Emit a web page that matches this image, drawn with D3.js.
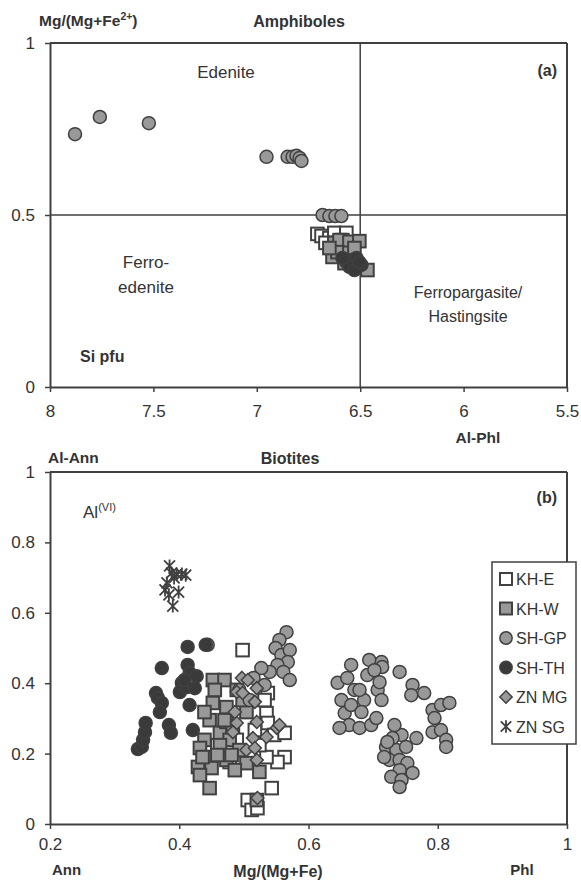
<!DOCTYPE html>
<html><head><meta charset="utf-8">
<script src="https://cdn.jsdelivr.net/npm/d3@7"></script>
<style>body{margin:0;background:#fff}svg{display:block}text{font-family:"Liberation Sans",Arial,sans-serif;fill:#333}</style>
</head><body><svg id="c" width="581" height="884"></svg>
<script>
// ---- Panel (a) Amphiboles: [Si pfu, Mg/(Mg+Fe2+)] ----
const ampXTicks = [8, 7.5, 7, 6.5, 6, 5.5];
const ampYTicks = [0, 0.5, 1];
const ampKHE = [[6.707,0.445],[6.687,0.439],[6.649,0.433],[6.625,0.448],[6.567,0.448],[6.586,0.427],[6.668,0.419]];
const ampKHW = [[6.625,0.419],[6.600,0.427],[6.552,0.422],[6.504,0.424],[6.634,0.378],[6.610,0.392],[6.552,0.390],[6.576,0.360],[6.465,0.340],[6.528,0.404],[6.649,0.404]];
const ampSHGP = [[7.879,0.735],[7.759,0.785],[7.522,0.767],[6.953,0.669],[6.851,0.669],[6.827,0.669],[6.808,0.672],[6.793,0.666],[6.784,0.657],[6.682,0.500],[6.649,0.497],[6.620,0.497],[6.591,0.497]];
const ampSHTH = [[6.567,0.363],[6.542,0.369],[6.518,0.375],[6.494,0.355],[6.552,0.349],[6.528,0.340],[6.586,0.375],[6.504,0.363]];

// ---- Panel (b) Biotites: [Mg/(Mg+Fe), Al(VI)] ----
const bioXTicks = [0.2, 0.4, 0.6, 0.8, 1];
const bioYTicks = [0, 0.2, 0.4, 0.6, 0.8, 1];
const bioKHE = [[0.498,0.494],[0.537,0.372],[0.535,0.315],[0.537,0.287],[0.547,0.253],[0.563,0.259],[0.563,0.190],[0.552,0.176],[0.535,0.190],[0.543,0.102],[0.506,0.068],[0.512,0.040],[0.521,0.045],[0.478,0.176],[0.489,0.239],[0.524,0.224],[0.517,0.267],[0.532,0.352],[0.459,0.224]];
const bioKHW = [[0.452,0.409],[0.470,0.409],[0.452,0.344],[0.447,0.295],[0.463,0.259],[0.439,0.239],[0.432,0.216],[0.444,0.190],[0.429,0.162],[0.450,0.159],[0.432,0.139],[0.447,0.102],[0.473,0.290],[0.473,0.182],[0.473,0.332],[0.455,0.381],[0.439,0.318],[0.504,0.318],[0.504,0.173],[0.524,0.148],[0.520,0.068],[0.478,0.239],[0.493,0.210],[0.483,0.276],[0.470,0.295],[0.436,0.190],[0.463,0.224],[0.489,0.381],[0.498,0.352],[0.486,0.153],[0.459,0.196],[0.481,0.196]];
const bioSHGP = [[0.566,0.545],[0.555,0.523],[0.549,0.500],[0.558,0.480],[0.571,0.494],[0.568,0.460],[0.552,0.452],[0.540,0.432],[0.527,0.443],[0.561,0.432],[0.571,0.409],[0.515,0.415],[0.532,0.395],[0.493,0.381],[0.509,0.352],[0.444,0.509],
 [0.713,0.460],[0.714,0.446],[0.741,0.432],[0.761,0.395],[0.759,0.366],[0.779,0.372],[0.792,0.324],[0.805,0.338],[0.818,0.344],[0.795,0.301],[0.792,0.261],[0.805,0.267],[0.813,0.239],[0.813,0.219],[0.767,0.244],[0.744,0.253],[0.730,0.244],[0.720,0.219],[0.736,0.210],[0.751,0.219],[0.725,0.182],[0.741,0.182],[0.753,0.173],[0.761,0.145],[0.741,0.153],[0.728,0.134],[0.744,0.125],[0.741,0.105],[0.717,0.190],[0.722,0.233],[0.733,0.281],
 [0.645,0.401],[0.666,0.452],[0.660,0.415],[0.671,0.381],[0.651,0.352],[0.656,0.315],[0.666,0.338],[0.686,0.352],[0.679,0.381],[0.691,0.423],[0.694,0.466],[0.702,0.437],[0.682,0.318],[0.663,0.281],[0.648,0.273],[0.679,0.273],[0.697,0.281],[0.705,0.301],[0.707,0.381],[0.713,0.352],[0.710,0.403]];
const bioSHTH = [[0.336,0.213],[0.342,0.219],[0.344,0.239],[0.347,0.261],[0.348,0.287],[0.364,0.372],[0.367,0.358],[0.373,0.344],[0.370,0.318],[0.373,0.443],[0.384,0.281],[0.387,0.259],[0.413,0.503],[0.413,0.452],[0.416,0.429],[0.427,0.420],[0.404,0.401],[0.401,0.375],[0.412,0.389],[0.424,0.386],[0.416,0.338],[0.421,0.267],[0.408,0.409],[0.441,0.509]];
const bioZNMG = [[0.497,0.415],[0.506,0.409],[0.489,0.375],[0.498,0.372],[0.520,0.386],[0.517,0.347],[0.489,0.287],[0.520,0.290],[0.535,0.247],[0.551,0.273],[0.514,0.244],[0.504,0.210],[0.517,0.216],[0.520,0.182],[0.483,0.261],[0.521,0.074],[0.555,0.281],[0.486,0.318]];
const bioZNSG = [[0.385,0.733],[0.388,0.713],[0.396,0.710],[0.404,0.710],[0.410,0.707],[0.381,0.685],[0.378,0.665],[0.384,0.651],[0.390,0.619],[0.399,0.659],[0.392,0.699]];
const legendLabels = ["KH-E","KH-W","SH-GP","SH-TH","ZN MG","ZN SG"];

const svg = d3.select("#c");
const AX = "#404040", GRAY = "#999999", DARK = "#3a3a3a";
const L = 50, R = 567;

const styles = {
  "KH-E": {shape:"square", fill:"#fff"},
  "KH-W": {shape:"square", fill:GRAY},
  "SH-GP": {shape:"circle", fill:GRAY},
  "SH-TH": {shape:"circle", fill:DARK},
  "ZN MG": {shape:"diamond", fill:GRAY},
  "ZN SG": {shape:"star", fill:"none"}
};
function marker(g, name, x, y, scale) {
  const s = styles[name], k = scale || 1;
  if (s.shape === "circle") {
    g.append("circle").attr("cx",x).attr("cy",y).attr("r",6.5*k).attr("fill",s.fill).attr("stroke",AX).attr("stroke-width",1.5);
  } else if (s.shape === "square") {
    const h = 6.3*k;
    g.append("rect").attr("x",x-h).attr("y",y-h).attr("width",2*h).attr("height",2*h).attr("fill",s.fill).attr("stroke",AX).attr("stroke-width",2);
  } else if (s.shape === "diamond") {
    const h = 6.5*k;
    g.append("path").attr("d",`M${x},${y-h}L${x+h},${y}L${x},${y+h}L${x-h},${y}Z`).attr("fill",s.fill).attr("stroke",AX).attr("stroke-width",1.5);
  } else {
    const h = 5.5*k;
    g.append("path").attr("d",`M${x-h},${y-h}L${x+h},${y+h}M${x-h},${y+h}L${x+h},${y-h}M${x},${y-h-1}L${x},${y+h+1}`).attr("fill","none").attr("stroke",AX).attr("stroke-width",1.8);
  }
}

function panel(cfg) {
  const g = svg.append("g");
  const x = d3.scaleLinear().domain(cfg.xd).range([L, R]);
  const y = d3.scaleLinear().domain(cfg.yd).range([cfg.y0, cfg.y1]);
  g.append("line").attr("x1",L).attr("x2",R).attr("y1",cfg.y1).attr("y2",cfg.y1).attr("stroke",AX).attr("stroke-width",2);
  g.append("line").attr("x1",R).attr("x2",R).attr("y1",cfg.y1).attr("y2",cfg.y0).attr("stroke",AX).attr("stroke-width",2);
  const xa = g.append("g").attr("transform",`translate(0,${cfg.y0})`)
    .call(d3.axisBottom(x).tickValues(cfg.xt).tickSize(5).tickSizeOuter(0).tickPadding(cfg.xpad).tickFormat(d3.format("")));
  const ya = g.append("g").attr("transform",`translate(${L},0)`)
    .call(d3.axisLeft(y).tickValues(cfg.yt).tickSize(5).tickSizeOuter(0).tickPadding(10).tickFormat(d3.format("")));
  [xa, ya].forEach(a => {
    a.select(".domain").attr("stroke",AX).attr("stroke-width",2);
    a.selectAll(".tick line").attr("stroke",AX).attr("stroke-width",1.5);
    a.selectAll(".tick text").attr("fill","#333").style("font-size","17px").style("font-family","Liberation Sans, Arial, sans-serif");
  });
  return {g, x, y};
}

// ===== Panel (a) =====
const A = panel({xd:[8,5.5], yd:[0,1], y0:387, y1:43, xt:ampXTicks, yt:ampYTicks, xpad:13});
A.g.append("line").attr("x1",L).attr("x2",R).attr("y1",A.y(0.5)).attr("y2",A.y(0.5)).attr("stroke",AX).attr("stroke-width",1.5);
A.g.append("line").attr("x1",A.x(6.5)).attr("x2",A.x(6.5)).attr("y1",A.y(1)).attr("y2",A.y(0)).attr("stroke",AX).attr("stroke-width",1.5);
const ampSeries = [["KH-E",ampKHE],["KH-W",ampKHW],["SH-GP",ampSHGP],["SH-TH",ampSHTH]];
const am = A.g.append("g");
ampSeries.forEach(([n, data]) => data.forEach(d => marker(am, n, A.x(d[0]), A.y(d[1]))));

const t1 = svg.append("text").attr("x",39).attr("y",26).style("font-size","15.5px").style("font-weight","bold");
t1.append("tspan").text("Mg/(Mg+Fe");
t1.append("tspan").attr("dy",-6).style("font-size","10.5px").text("2+");
t1.append("tspan").attr("dy",6).text(")");
svg.append("text").attr("x",299).attr("y",27).attr("text-anchor","middle").style("font-size","16px").style("font-weight","bold").text("Amphiboles");
svg.append("text").attr("x",226).attr("y",78).attr("text-anchor","middle").style("font-size","17px").text("Edenite");
svg.append("text").attr("x",557).attr("y",76).attr("text-anchor","end").style("font-size","16px").style("font-weight","bold").text("(a)");
svg.append("text").attr("x",146).attr("y",268).attr("text-anchor","middle").style("font-size","17px").text("Ferro-");
svg.append("text").attr("x",146).attr("y",293).attr("text-anchor","middle").style("font-size","17px").text("edenite");
svg.append("text").attr("x",468).attr("y",298).attr("text-anchor","middle").style("font-size","16px").text("Ferropargasite/");
svg.append("text").attr("x",468).attr("y",322).attr("text-anchor","middle").style("font-size","16px").text("Hastingsite");
svg.append("text").attr("x",80).attr("y",362).style("font-size","16px").style("font-weight","bold").text("Si pfu");

// ===== Panel (b) =====
const B = panel({xd:[0.2,1], yd:[0,1], y0:824, y1:472, xt:bioXTicks, yt:bioYTicks, xpad:9});
const bioSeries = [["KH-E",bioKHE],["KH-W",bioKHW],["SH-GP",bioSHGP],["SH-TH",bioSHTH],["ZN MG",bioZNMG],["ZN SG",bioZNSG]];
const bm = B.g.append("g");
bioSeries.forEach(([n, data]) => data.forEach(d => marker(bm, n, B.x(d[0]), B.y(d[1]))));

svg.append("text").attr("x",48).attr("y",463).style("font-size","15.5px").style("font-weight","bold").text("Al-Ann");
svg.append("text").attr("x",290).attr("y",464).attr("text-anchor","middle").style("font-size","16px").style("font-weight","bold").text("Biotites");
svg.append("text").attr("x",478).attr("y",443).attr("text-anchor","middle").style("font-size","15.5px").style("font-weight","bold").text("Al-Phl");
svg.append("text").attr("x",557).attr("y",503).attr("text-anchor","end").style("font-size","16px").style("font-weight","bold").text("(b)");
const al = svg.append("text").attr("x",83).attr("y",518).style("font-size","17px");
al.append("tspan").text("Al");
al.append("tspan").attr("dy",-7).style("font-size","11px").text("(VI)");
svg.append("text").attr("x",52).attr("y",875).style("font-size","15px").style("font-weight","bold").text("Ann");
svg.append("text").attr("x",278).attr("y",877).attr("text-anchor","middle").style("font-size","16px").style("font-weight","bold").text("Mg/(Mg+Fe)");
svg.append("text").attr("x",522).attr("y",875).attr("text-anchor","middle").style("font-size","15px").style("font-weight","bold").text("Phl");

// legend
const lg = svg.append("g");
lg.append("rect").attr("x",492).attr("y",562).attr("width",84).attr("height",182).attr("fill","#fff").attr("stroke",AX).attr("stroke-width",1.5);
legendLabels.forEach((n, i) => {
  const cy = 579 + i*29.5;
  marker(lg, n, 506, cy, 0.95);
  lg.append("text").attr("x",516).attr("y",cy+6).style("font-size","16px").text(n);
});
</script></body></html>
